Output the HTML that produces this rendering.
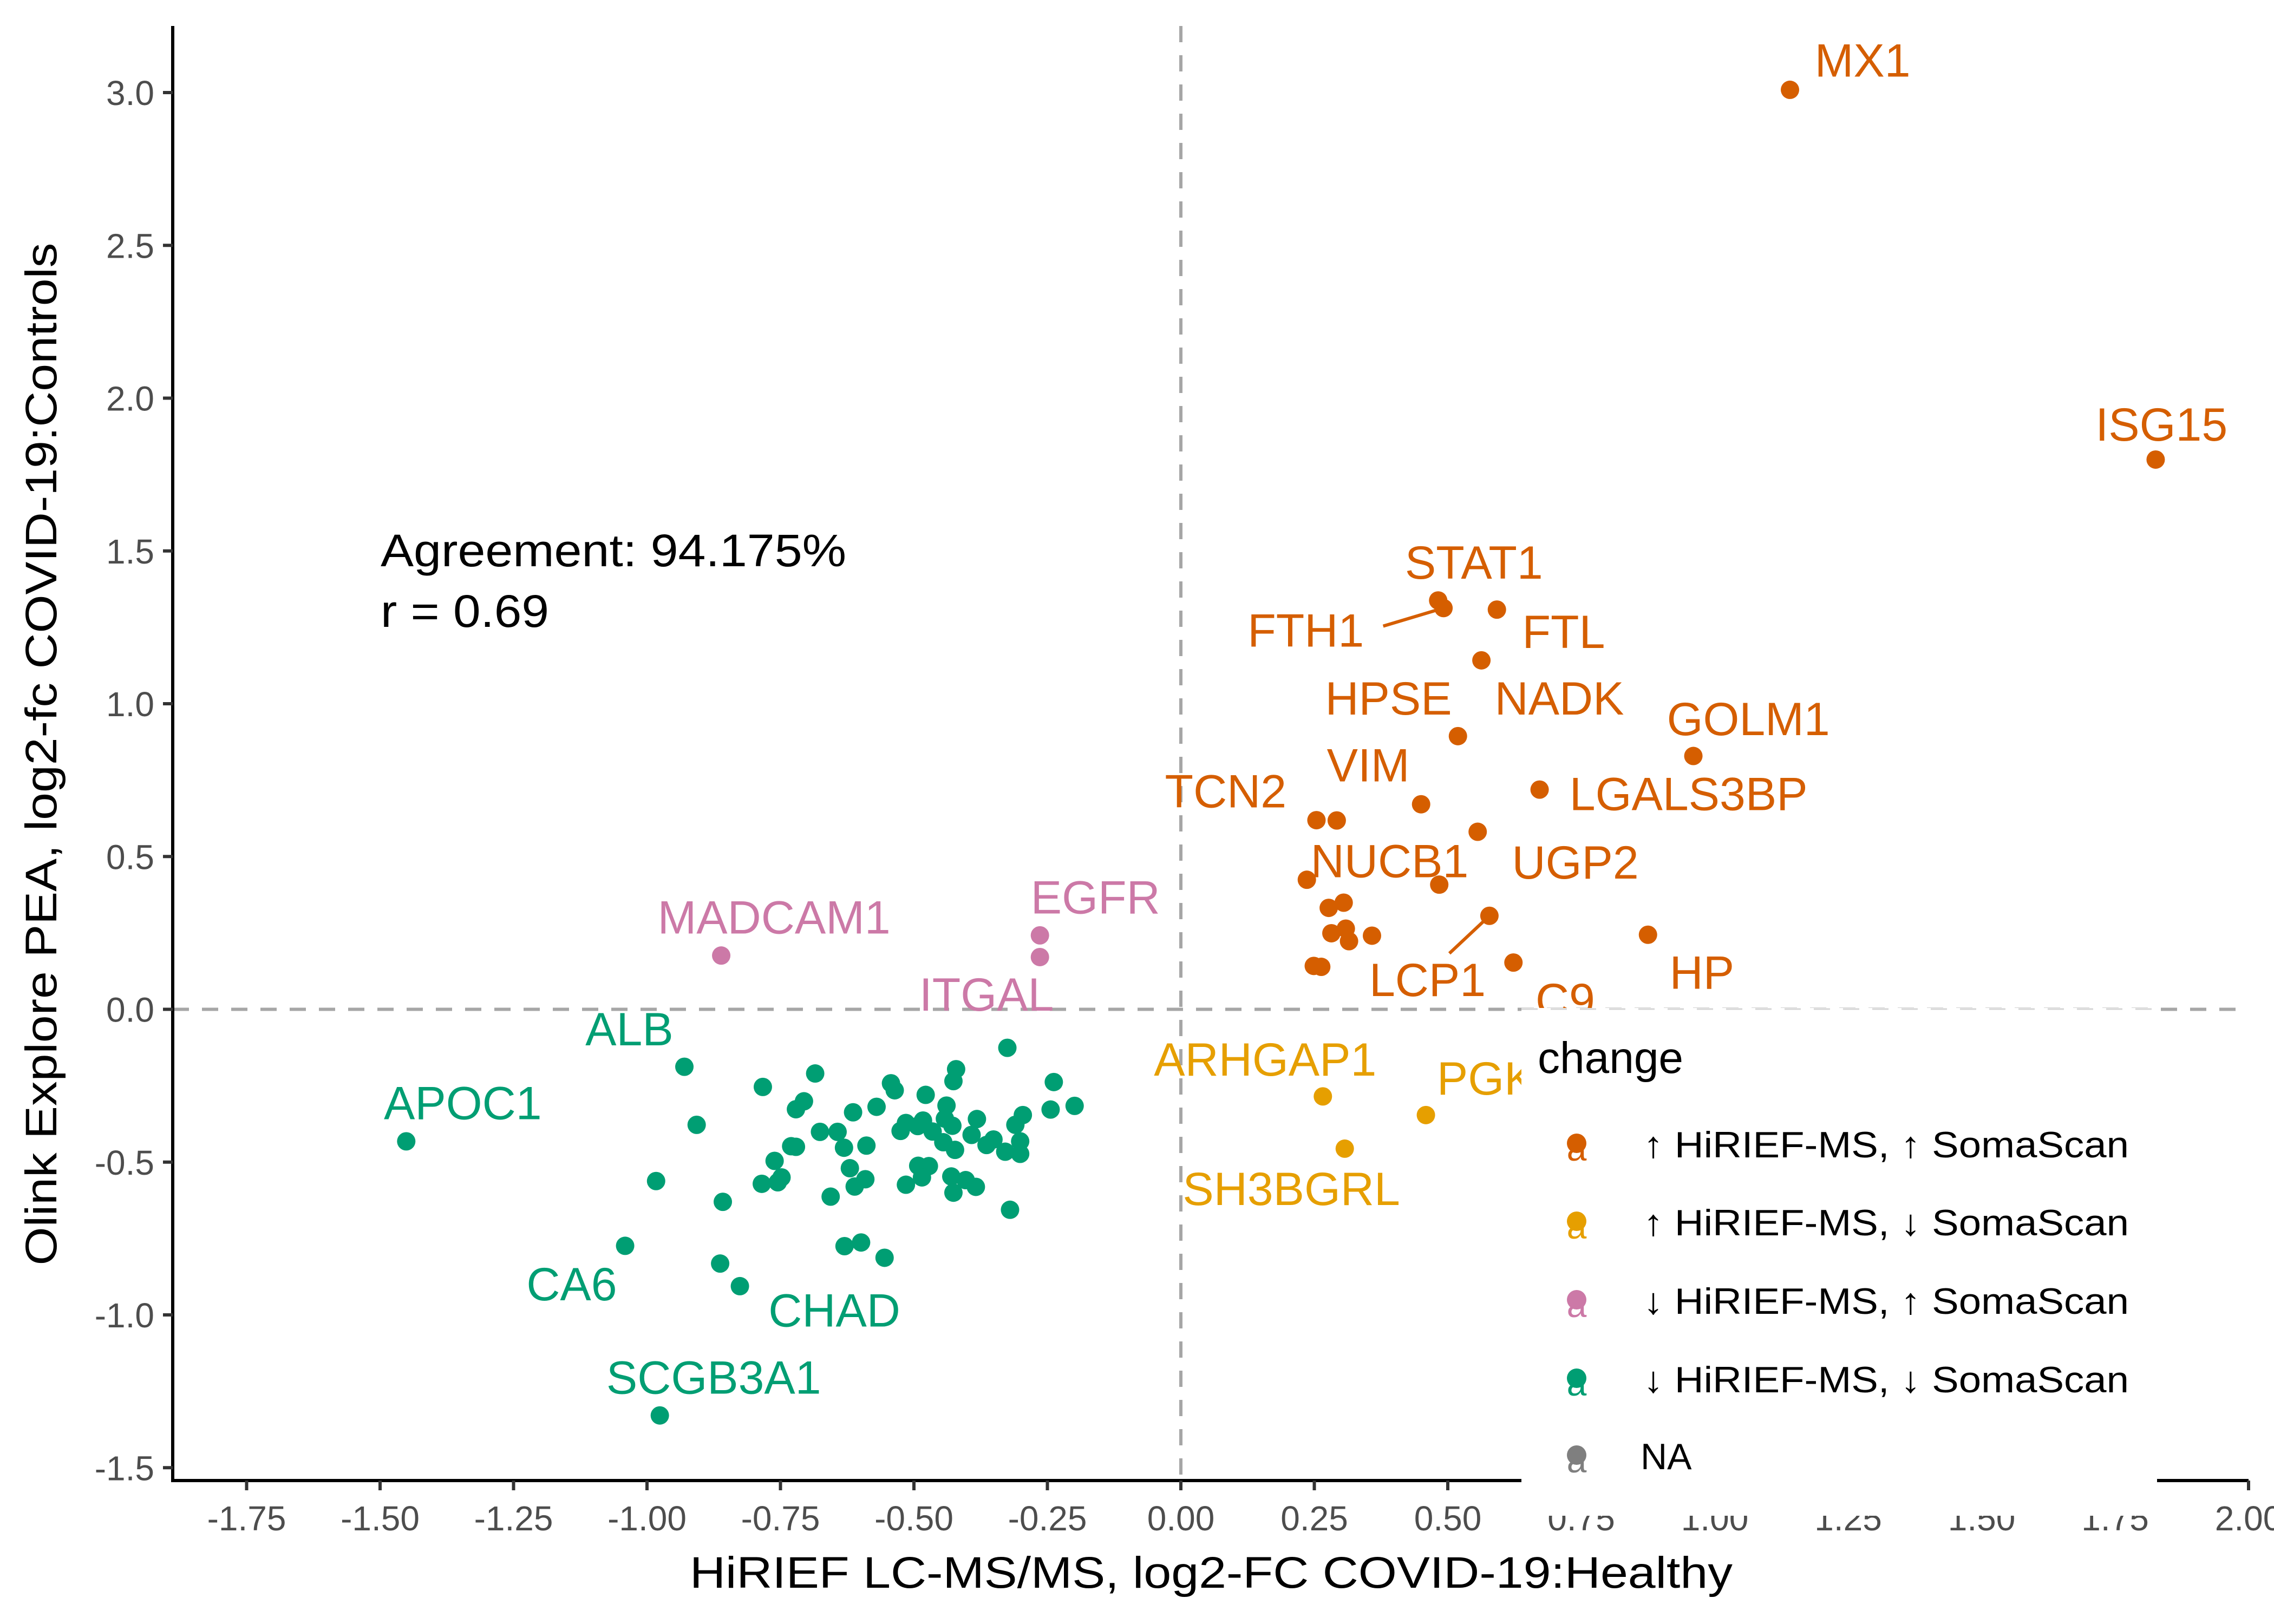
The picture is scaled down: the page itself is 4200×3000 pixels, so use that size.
<!DOCTYPE html>
<html><head><meta charset="utf-8"><style>
html,body{margin:0;padding:0;background:#fff}
svg{display:block;font-family:"Liberation Sans",Arial,sans-serif}
</style></head><body>
<svg id="chart" width="4200" height="3000" viewBox="0 0 4200 3000" xmlns="http://www.w3.org/2000/svg">
<rect x="0" y="0" width="4200" height="3000" fill="#fff"/>
<g id="grid"></g>
<g id="points"></g>
<g id="labels"></g>
<g id="axes"></g>
<text x="703" y="1046" font-size="84" fill="#000" textLength="860" lengthAdjust="spacingAndGlyphs">Agreement: 94.175%</text>
<text x="703" y="1158" font-size="84" fill="#000" textLength="311" lengthAdjust="spacingAndGlyphs">r = 0.69</text>
<text x="2237" y="2933" font-size="82" text-anchor="middle" textLength="1926" lengthAdjust="spacingAndGlyphs">HiRIEF LC-MS/MS, log2-FC COVID-19:Healthy</text>
<text transform="translate(104,1393) rotate(-90)" font-size="82" text-anchor="middle" textLength="1889" lengthAdjust="spacingAndGlyphs">Olink Explore PEA, log2-fc COVID-19:Controls</text>
<g id="legend"></g>
</svg>
<script>
const xTicks=[-1.75,-1.5,-1.25,-1,-0.75,-0.5,-0.25,0,0.25,0.5,0.75,1,1.25,1.5,1.75,2];
const xTickLabels=["-1.75","-1.50","-1.25","-1.00","-0.75","-0.50","-0.25","0.00","0.25","0.50","0.75","1.00","1.25","1.50","1.75","2.00"];
const yTicks=[-1.5,-1,-0.5,0,0.5,1,1.5,2,2.5,3];
const yTickLabels=["-1.5","-1.0","-0.5","0.0","0.5","1.0","1.5","2.0","2.5","3.0"];
const greenX=[-0.930,-0.907,-0.983,-0.858,-0.863,-0.783,-0.685,-0.706,-0.721,-0.730,-0.721,-0.761,-0.748,-0.785,-0.755,-0.676,-0.643,-0.631,-0.614,-0.570,-0.589,-0.620,-0.591,-0.611,-0.656,-0.630,-0.599,-0.555,-0.543,-0.536,-0.478,-0.421,-0.426,-0.439,-0.515,-0.525,-0.483,-0.493,-0.465,-0.442,-0.428,-0.445,-0.423,-0.382,-0.392,-0.351,-0.364,-0.329,-0.301,-0.301,-0.310,-0.296,-0.325,-0.238,-0.244,-0.199,-0.492,-0.472,-0.485,-0.515,-0.430,-0.403,-0.384,-0.426,-0.320,-1.451,-1.041,-0.976,-0.826];
const greenY=[-0.188,-0.378,-0.562,-0.630,-0.832,-0.254,-0.210,-0.301,-0.327,-0.448,-0.450,-0.496,-0.550,-0.571,-0.566,-0.401,-0.401,-0.453,-0.337,-0.319,-0.446,-0.520,-0.556,-0.580,-0.613,-0.775,-0.763,-0.813,-0.242,-0.265,-0.280,-0.196,-0.235,-0.315,-0.372,-0.398,-0.364,-0.382,-0.400,-0.358,-0.381,-0.435,-0.460,-0.359,-0.411,-0.426,-0.444,-0.466,-0.432,-0.473,-0.378,-0.346,-0.126,-0.238,-0.328,-0.316,-0.512,-0.513,-0.550,-0.574,-0.547,-0.559,-0.581,-0.600,-0.656,-0.432,-0.774,-1.329,-0.906];
const orangeX=[1.141,1.826,0.482,0.492,0.592,0.563,0.519,0.960,0.672,0.450,0.254,0.292,0.556,0.236,0.484,0.277,0.305,0.282,0.309,0.315,0.358,0.578,0.249,0.263,0.623,0.875];
const orangeY=[3.009,1.799,1.338,1.313,1.308,1.142,0.894,0.829,0.719,0.671,0.619,0.618,0.581,0.424,0.408,0.332,0.349,0.249,0.264,0.223,0.241,0.306,0.142,0.139,0.153,0.244];
const pinkX=[-0.861,-0.264,-0.264];
const pinkY=[0.176,0.242,0.171];
const yellowX=[0.266,0.307,0.459];
const yellowY=[-0.285,-0.456,-0.346];
const labelText=["MX1","ISG15","STAT1","FTH1","FTL","HPSE","NADK","GOLM1","VIM","TCN2","LGALS3BP","NUCB1","UGP2","LCP1","C9","HP","MADCAM1","EGFR","ITGAL","ALB","APOC1","CA6","CHAD","SCGB3A1","ARHGAP1","PGK1","SH3BGRL"];
const labelX=[1.277,1.837,0.549,0.234,0.717,0.389,0.709,1.063,0.351,0.084,0.951,0.391,0.739,0.462,0.720,0.976,-0.762,-0.160,-0.364,-1.033,-1.345,-1.141,-0.649,-0.875,0.158,0.596,0.207];
const labelY=[3.104,1.912,1.461,1.238,1.234,1.016,1.016,0.949,0.797,0.712,0.703,0.484,0.479,0.095,0.029,0.119,0.299,0.365,0.047,-0.066,-0.308,-0.901,-0.987,-1.206,-0.166,-0.228,-0.589];
const labelColor=["o","o","o","o","o","o","o","o","o","o","o","o","o","o","o","o","p","p","p","g","g","g","g","g","y","y","y"];
const legendLabels=["↑ HiRIEF-MS, ↑ SomaScan","↑ HiRIEF-MS, ↓ SomaScan","↓ HiRIEF-MS, ↑ SomaScan","↓ HiRIEF-MS, ↓ SomaScan","NA"];
const legendColors=["#D55E00","#E69F00","#CC79A7","#009E73","#7F7F7F"];

const NS="http://www.w3.org/2000/svg";
const C={o:"#D55E00",y:"#E69F00",p:"#CC79A7",g:"#009E73"};
const X0=319,X1=4153,Y0=48,Y1=2735;
function sx(v){return 2181+v*986;}
function sy(v){return 1864.5-v*564.5;}
function mk(tag,attrs,parent){const e=document.createElementNS(NS,tag);for(const k in attrs)e.setAttribute(k,attrs[k]);parent.appendChild(e);return e;}
const grid=document.getElementById('grid'),pts=document.getElementById('points'),lab=document.getElementById('labels'),axes=document.getElementById('axes'),leg=document.getElementById('legend');

let l=mk('line',{x1:sx(0),x2:sx(0),y1:Y0,y2:Y1,stroke:"#a6a6a6","stroke-width":6,"stroke-dasharray":"30 24"},grid);


l=mk('line',{x1:X0,x2:X1,y1:sy(0),y2:sy(0),stroke:"#a6a6a6","stroke-width":6,"stroke-dasharray":"30 24"},grid);



l=mk('line',{x1:sx(0.492),y1:sy(1.313),x2:sx(0.379),y2:sy(1.254),stroke:C.o,"stroke-width":6},lab);


l=mk('line',{x1:sx(0.578),y1:sy(0.306),x2:sx(0.503),y2:sy(0.183),stroke:C.o,"stroke-width":6},lab);



function drawSeries(xs,ys,col,name){
  for(let i=0;i<xs.length;i++){
    const c=mk('circle',{cx:sx(xs[i]),cy:sy(ys[i]),r:17,fill:col},pts);
    
    
  }
}
drawSeries(greenX,greenY,C.g,'down-down');
drawSeries(orangeX,orangeY,C.o,'up-up');
drawSeries(pinkX,pinkY,C.p,'down-up');
drawSeries(yellowX,yellowY,C.y,'up-down');

for(let i=0;i<labelText.length;i++){
  const t=mk('text',{x:sx(labelX[i]),y:sy(labelY[i]),"font-size":86,fill:C[labelColor[i]],"text-anchor":"middle","dominant-baseline":"central"},lab);
  t.textContent=labelText[i];
  
  
}

l=mk('line',{x1:X0,x2:X0,y1:Y0,y2:Y1+3,stroke:"#000","stroke-width":6},axes);


l=mk('line',{x1:X0-3,x2:X1,y1:Y1,y2:Y1,stroke:"#000","stroke-width":6},axes);


for(let i=0;i<xTicks.length;i++){
  const x=sx(xTicks[i]);
  const tk=mk('line',{x1:x,x2:x,y1:Y1,y2:Y1+18,stroke:"#333","stroke-width":6},axes);
  
  
  const t=mk('text',{x:x,y:2827,"font-size":64,fill:"#4d4d4d","text-anchor":"middle"},axes);
  t.textContent=xTickLabels[i];
  
  
}
for(let i=0;i<yTicks.length;i++){
  const y=sy(yTicks[i]);
  const tk=mk('line',{x1:X0-18,x2:X0,y1:y,y2:y,stroke:"#333","stroke-width":6},axes);
  
  
  const t=mk('text',{x:285,y:y+23,"font-size":64,fill:"#4d4d4d","text-anchor":"end"},axes);
  t.textContent=yTickLabels[i];
  
  
}

let r=mk('rect',{x:2810,y:1862,width:1174,height:938,fill:"#fff"},leg);


l=mk('line',{x1:2810,x2:3984,y1:1864,y2:1864,stroke:"#d6d6d6","stroke-width":3,"stroke-dasharray":"30 24"},leg);


let tt=mk('text',{x:2840,y:1982,"font-size":82,fill:"#000"},leg);
tt.textContent="change";


const rowY=[2138,2282,2427,2572,2714];
for(let i=0;i<legendLabels.length;i++){
  const g=mk('g',{},leg);
  
  
  const a=mk('text',{x:2912,y:rowY[i]+6,"font-size":66,fill:legendColors[i],"text-anchor":"middle"},g);
  a.textContent="a";
  
  
  const c=mk('circle',{cx:2912,cy:rowY[i]-26,r:18,fill:legendColors[i]},g);
  
  
  const t=mk('text',{x:i<4?3035:3030,y:rowY[i],"font-size":68,fill:"#000"},g);
  if(i<4){t.setAttribute('textLength',897);t.setAttribute('lengthAdjust','spacingAndGlyphs');}
  t.textContent=legendLabels[i];
  
  
}
</script>
</body></html>
